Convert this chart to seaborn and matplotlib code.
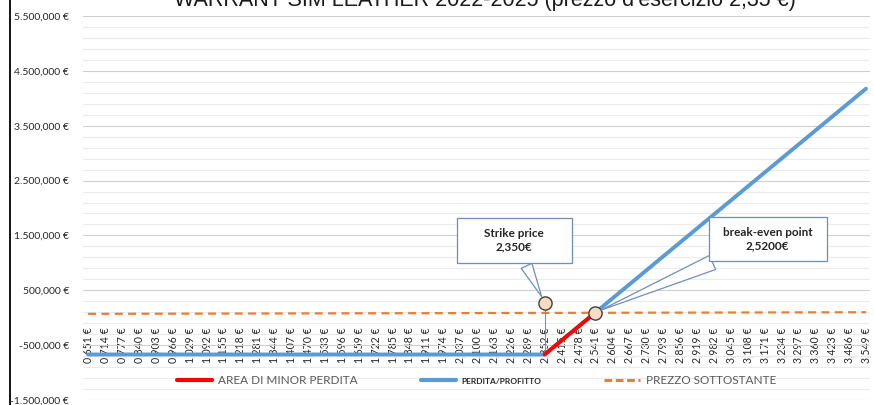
import seaborn as sns
import pandas as pd
import numpy as np
import matplotlib.pyplot as plt
from matplotlib.lines import Line2D
from matplotlib.path import Path

# dati
prezzi = [0.651, 0.714, 0.777, 0.840, 0.903, 0.966, 1.029, 1.092, 1.155, 1.218,
          1.281, 1.344, 1.407, 1.470, 1.533, 1.596, 1.659, 1.722, 1.785, 1.848,
          1.911, 1.974, 2.037, 2.100, 2.163, 2.226, 2.289, 2.352, 2.415, 2.478,
          2.541, 2.604, 2.667, 2.730, 2.793, 2.856, 2.919, 2.982, 3.045, 3.108,
          3.171, 3.234, 3.297, 3.360, 3.423, 3.486, 3.549]
etichette_x = [f"{p:.3f} €".replace('.', ',') for p in prezzi]

perdita_profitto = [-670000, -670000, -670000, -670000, -670000, -670000, -670000, -670000, -670000, -670000,
                    -670000, -670000, -670000, -670000, -670000, -670000, -670000, -670000, -670000, -670000,
                    -670000, -670000, -670000, -670000, -670000, -670000, -670000, -670000, -415000, -160000,
                    95000, 350000, 605000, 860000, 1115000, 1370000, 1625000, 1880000, 2135000, 2390000,
                    2645000, 2900000, 3155000, 3410000, 3665000, 3920000, 4175000]

# tratto rosso (area di minor perdita)
prezzi_minor = [2.352, 2.415, 2.478, 2.541]
minor_perdita = [-670000, -415000, -160000, 95000]

prezzo_sottostante = [70000, 70700, 71300, 72000, 72600, 73300, 73900, 74600, 75200, 75900,
                      76500, 77200, 77800, 78500, 79100, 79800, 80400, 81100, 81700, 82400,
                      83000, 83700, 84300, 85000, 85600, 86300, 86900, 87600, 88200, 88900,
                      89500, 90200, 90800, 91500, 92100, 92800, 93400, 94100, 94700, 95400,
                      96000, 96700, 97300, 98000, 98600, 99300, 100000]

strike_x, strike_y = 2.352, 270000
breakeven_x, breakeven_y = 2.541, 95000

y_major = [-1500000, -500000, 500000, 1500000, 2500000, 3500000, 4500000, 5500000]
y_labels = ["-1.500,000 €", "-500,000 €", "500,000 €", "1.500,000 €", "2.500,000 €",
            "3.500,000 €", "4.500,000 €", "5.500,000 €"]

titolo = "WARRANT SIM LEATHER 2022-2025 (prezzo d'esercizio 2,35 €)"

sns.set_style("white")
plt.rcParams['font.family'] = ['Lato', 'DejaVu Sans']

df = pd.DataFrame({'prezzo': prezzi, 'perdita': perdita_profitto, 'sottostante': prezzo_sottostante})
df_minor = pd.DataFrame({'prezzo': prezzi_minor, 'perdita': minor_perdita})

fig, ax = plt.subplots(figsize=(8.74, 4.05), dpi=100)
fig.subplots_adjust(left=83/874, right=870/874, bottom=1-400/405, top=1-16/405)

BLU = '#5B9BD5'
ROSSO = '#FF0000'
ARANCIO = '#ED7D31'

sns.lineplot(data=df, x='prezzo', y='sottostante', color=ARANCIO, lw=1.6,
             linestyle=(0, (3.6, 2.4)), ax=ax, zorder=3)
sns.lineplot(data=df, x='prezzo', y='perdita', color=BLU, lw=2.8, ax=ax, zorder=4)
sns.lineplot(data=df_minor, x='prezzo', y='perdita', color=ROSSO, lw=2.8, ax=ax, zorder=5)

# linea verticale dello strike
ax.plot([strike_x, strike_x], [perdita_profitto[27], strike_y], color=BLU, lw=0.8, zorder=4)

# marcatori
ax.plot([strike_x, breakeven_x], [strike_y, breakeven_y], 'o', ms=9.5, mfc='#F8DCC4',
        mec='#404040', mew=1.0, zorder=6)


def box_fisso(w, h):
    def stile(x0, y0, width, height, mutation_size):
        cx, cy = x0 + width / 2, y0 + height / 2
        return Path([(cx - w / 2, cy - h / 2), (cx + w / 2, cy - h / 2), (cx + w / 2, cy + h / 2),
                     (cx - w / 2, cy + h / 2), (cx - w / 2, cy - h / 2)], closed=True)
    return stile


BORDO = '#6F8FB8'
ax.annotate('Strike price\n2,350€', xy=(strike_x, strike_y), xytext=(-22, 45),
            textcoords='offset points', ha='center', va='center', fontsize=8.5, fontweight='bold',
            linespacing=1.25, zorder=7,
            bbox=dict(boxstyle=box_fisso(115, 45), fc='white', ec=BORDO, lw=0.9),
            arrowprops=dict(arrowstyle='wedge,tail_width=1.0,shrink_factor=0.5', fc='white',
                            ec=BORDO, lw=0.9, shrinkB=5))
ax.annotate('break-even point\n2,5200€', xy=(breakeven_x, breakeven_y), xytext=(124, 53),
            textcoords='offset points', ha='center', va='center', fontsize=8.5, fontweight='bold',
            linespacing=1.25, zorder=7,
            bbox=dict(boxstyle=box_fisso(118, 44), fc='white', ec=BORDO, lw=0.9),
            arrowprops=dict(arrowstyle='wedge,tail_width=1.3,shrink_factor=0.5', fc='white',
                            ec=BORDO, lw=0.9, shrinkB=4))

# assi (prima la posizione dello spine, che azzera i tick)
ax.spines['bottom'].set_position(('data', 0))
for s in ax.spines.values():
    s.set_visible(False)
ax.set_xlim(prezzi[0] - 0.019, prezzi[-1] + 0.015)
ax.set_ylim(y_major[0], y_major[-1])
ax.set_xticks(prezzi)
ax.set_xticklabels(etichette_x, rotation=90, fontsize=7.6, color='#262626')
ax.set_yticks(y_major)
ax.set_yticklabels(y_labels, fontsize=7.5, color='#262626')
ax.set_yticks(np.arange(y_major[0], y_major[-1] + 1, 200000), minor=True)
ax.tick_params(axis='both', which='both', length=0)
ax.tick_params(axis='x', pad=7)
ax.tick_params(axis='y', pad=10)
ax.grid(axis='y', which='major', color='#D0D0D0', lw=0.8)
ax.grid(axis='y', which='minor', color='#EBEBEB', lw=0.8)
ax.grid(axis='x', visible=False)
ax.set_axisbelow(True)
ax.set_xlabel('')
ax.set_ylabel('')

# legenda
maniglie = [Line2D([], [], color=ROSSO, lw=3),
            Line2D([], [], color=BLU, lw=3),
            Line2D([], [], color=ARANCIO, lw=2.2, linestyle=(0, (2.5, 1.2)))]
leg = ax.legend(maniglie, ['AREA DI MINOR PERDITA', 'PERDITA/PROFITTO', 'PREZZO SOTTOSTANTE'],
                ncol=3, loc='center', bbox_to_anchor=(0.5, 0.05), frameon=False, fontsize=8.5,
                handlelength=3.0, handletextpad=0.5, columnspacing=5.3)
for t in leg.get_texts():
    t.set_color('#595959')
leg.get_texts()[1].set_fontsize(6)
leg.get_texts()[1].set_fontweight('bold')
leg.get_texts()[1].set_color('#262626')

fig.text(0.555, 1 - 6/405, titolo, ha='center', va='baseline', fontsize=15.5,
         family=['Liberation Sans', 'DejaVu Sans'], color='#1a1a1a')
fig.add_artist(Line2D([10/874, 10/874], [0, 1], color='black', lw=1.3, transform=fig.transFigure))

plt.savefig('out.png', dpi=100)
